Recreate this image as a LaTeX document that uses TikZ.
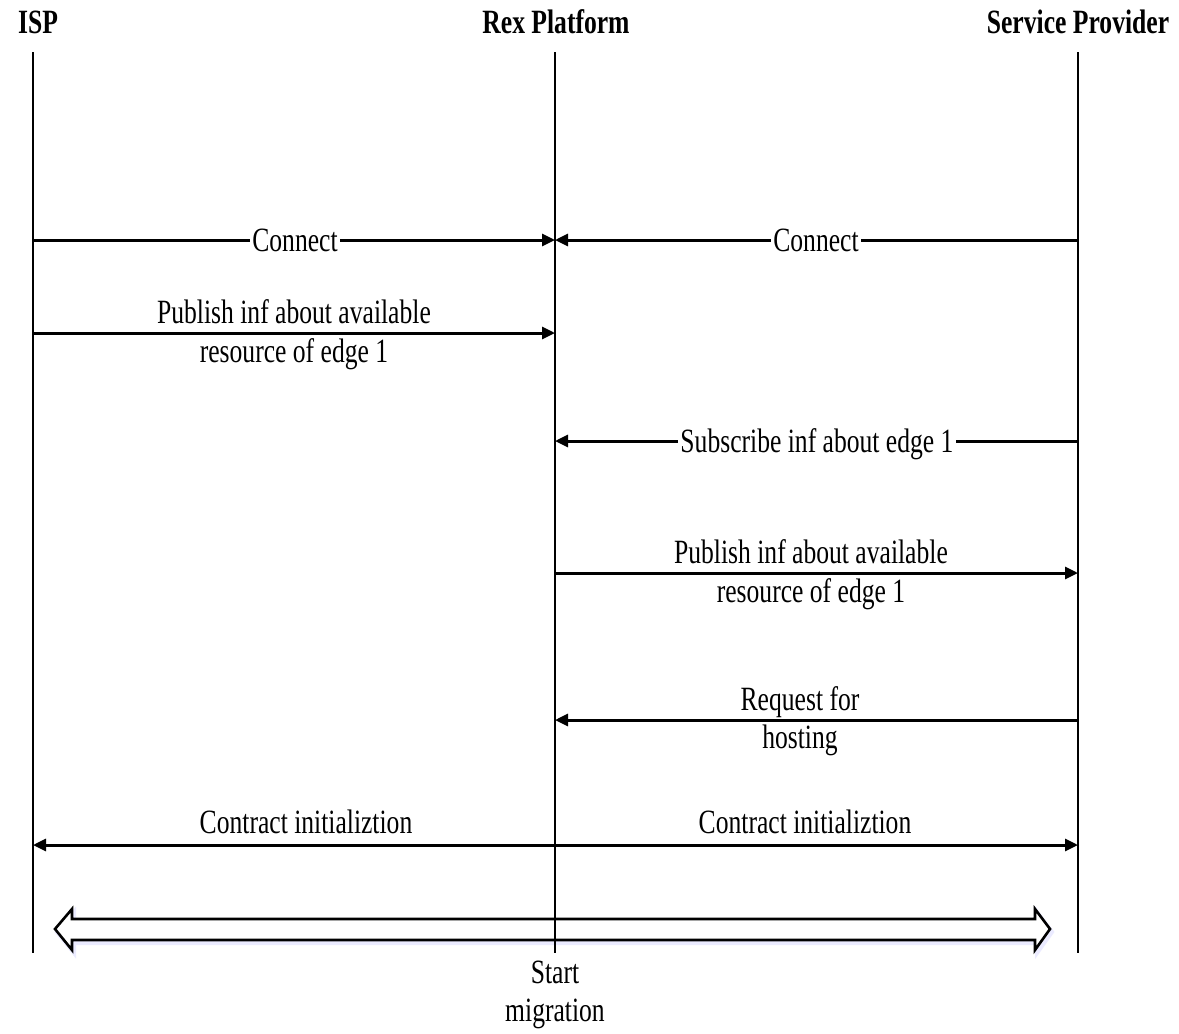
\documentclass[tikz,border=0pt]{standalone}
\usepackage{fontspec}
\setmainfont{Liberation Serif}[FakeStretch=0.753]
\usetikzlibrary{arrows.meta}
\begin{document}
\begin{tikzpicture}[x=1pt,y=-1pt,
  txt/.style={font=\fontsize{34}{40}\selectfont, inner sep=0pt, anchor=base},
  head/.style={txt, font=\fontsize{34}{40}\selectfont\bfseries},
  onl/.style={txt, fill=white, inner xsep=2pt, inner ysep=1pt},
  life/.style={line width=2.6pt},
  msg/.style={line width=3pt, -{Triangle[length=13pt,width=12pt]}},
  msgb/.style={line width=3pt, {Triangle[length=13pt,width=12pt]}-{Triangle[length=13pt,width=12pt]}},
  big/.style={line width=2.6pt, line join=miter}
]
\useasboundingbox (0,0) rectangle (1179,1034);

% headers
\node[head] (isp) at (38,33) {ISP};
\node[head] (rex) at (556,33) {Rex Platform};
\node[head] (sp) at (1078,33) {Service Provider};

% lifeline coordinates
\coordinate (ispT) at (33,52);   \coordinate (ispB) at (33,953);
\coordinate (rexT) at (555,52);  \coordinate (rexB) at (555,953);
\coordinate (spT) at (1078,52);  \coordinate (spB) at (1078,953);

% message endpoints
\coordinate (isp1) at (33,240);  \coordinate (rex1) at (555,240); \coordinate (sp1) at (1078,240);
\coordinate (isp2) at (33,333);  \coordinate (rex2) at (555,333);
\coordinate (rex3) at (555,441); \coordinate (sp3) at (1078,441);
\coordinate (rex4) at (555,573); \coordinate (sp4) at (1078,573);
\coordinate (rex5) at (555,720); \coordinate (sp5) at (1078,720);
\coordinate (isp6) at (33,845);  \coordinate (sp6) at (1078,845);

% big double arrow (shadow + outline)
\draw[big, blue!8, line width=4pt, shift={(2,3)}]
  (55,929) -- (72,909) -- (72,919) -- (1035,919) -- (1035,909) -- (1050,929)
  -- (1035,950) -- (1035,940) -- (72,940) -- (72,950) -- cycle;
\draw[big, fill=white] (55,929) -- (72,909) -- (72,919) -- (1035,919) -- (1035,909) -- (1050,929)
  -- (1035,950) -- (1035,940) -- (72,940) -- (72,950) -- cycle;

% lifelines
\draw[life] (ispT) -- (ispB);
\draw[life] (rexT) -- (rexB);
\draw[life] (spT) -- (spB);

% messages
\draw[msg] (isp1) -- (rex1);
\draw[msg] (sp1) -- (rex1);
\draw[msg] (isp2) -- (rex2);
\draw[msg] (sp3) -- (rex3);
\draw[msg] (rex4) -- (sp4);
\draw[msg] (sp5) -- (rex5);
\draw[msgb] (isp6) -- (sp6);

% labels
\node[onl] (l1a) at (295,251) {Connect};
\node[onl] (l1b) at (816,251) {Connect};
\node[txt] (l2a) at (294,323) {Publish inf about available};
\node[txt] (l2b) at (294,362) {resource of edge 1};
\node[onl] (l3) at (817,452) {Subscribe inf about edge 1};
\node[txt] (l4a) at (811,563) {Publish inf about available};
\node[txt] (l4b) at (811,602) {resource of edge 1};
\node[txt] (l5a) at (800,710) {Request for};
\node[txt] (l5b) at (800,748) {hosting};
\node[txt] (l6a) at (306,833) {Contract initializtion};
\node[txt] (l6b) at (805,833) {Contract initializtion};
\node[txt] (l7a) at (555,983) {Start};
\node[txt] (l7b) at (555,1021) {migration};
\end{tikzpicture}
\end{document}
